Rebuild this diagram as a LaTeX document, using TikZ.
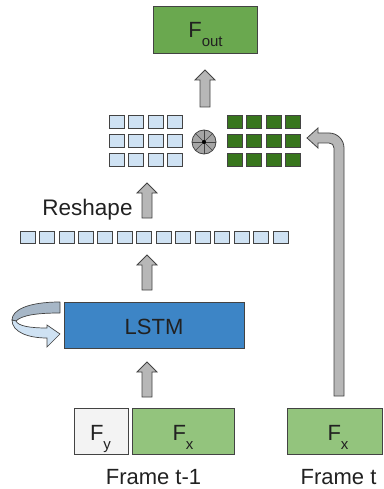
\documentclass[tikz,border=0pt]{standalone}
\usepackage{fontspec}
\setmainfont{Liberation Sans}
\usetikzlibrary{calc}
\definecolor{txt}{HTML}{212121}
\definecolor{edge}{HTML}{434343}
\definecolor{foutg}{HTML}{6AA84F}
\definecolor{fxg}{HTML}{93C47D}
\definecolor{fyg}{HTML}{F3F3F3}
\definecolor{lstmb}{HTML}{3D85C6}
\definecolor{lb}{HTML}{CFE2F3}
\definecolor{dg}{HTML}{38761D}
\definecolor{arrg}{HTML}{B7B7B7}
\definecolor{backb}{HTML}{A7B7C7}
\definecolor{convg}{HTML}{A5A5A5}
\newcommand\Fsub[1]{F\raisebox{-9pt}{\fontsize{15}{15}\selectfont #1}}
\newcommand\blockup[2]{%
  \draw[blockarrow] let \p1=(#1), \p2=(#2) in
    (\x1-5pt,\y1) -- (\x1-5pt,\y2-10pt) -- (\x1-10pt,\y2-10pt) -- (\x2,\y2)
    -- (\x1+10pt,\y2-10pt) -- (\x1+5pt,\y2-10pt) -- (\x1+5pt,\y1) -- cycle;}
\tikzset{
  box/.style={draw=edge, line width=0.9pt, inner sep=0pt, rectangle},
  cellL/.style={draw=edge, fill=lb, line width=0.7pt, minimum width=15pt, minimum height=13pt, inner sep=0pt},
  cellD/.style={draw=edge, fill=dg, line width=0.7pt, minimum width=15pt, minimum height=13pt, inner sep=0pt},
  cellR/.style={draw=edge, fill=lb, line width=0.7pt, minimum width=15pt, minimum height=11.5pt, inner sep=0pt},
  lbl/.style={text=txt, font=\fontsize{22}{22}\selectfont, inner sep=0pt, anchor=base},
  blockarrow/.style={draw=edge, fill=arrg, line width=0.8pt, line join=miter},
}
\begin{document}
\begin{tikzpicture}[x=1pt,y=-1pt]
\useasboundingbox (0,0) rectangle (383,489);
% boxes
\node[box, fill=foutg, minimum width=104pt, minimum height=47pt] (fout) at (205,29.5) {};
\node[box, fill=lstmb, minimum width=180pt, minimum height=46pt] (lstm) at (154,325) {};
\node[box, fill=fyg, minimum width=54pt, minimum height=46pt] (fy) at (101,431) {};
\node[box, fill=fxg, minimum width=102pt, minimum height=46pt] (fx1) at (183,431) {};
\node[box, fill=fxg, minimum width=95pt, minimum height=46pt] (fx2) at (334.5,431) {};
% box texts
\node[lbl] (foutT) at (205.5,38) {\Fsub{out}};
\node[lbl] (lstmT) at (154,334) {LSTM};
\node[lbl] (fyT) at (100.5,440) {\Fsub{y}};
\node[lbl] (fx1T) at (183,440) {\Fsub{x}};
\node[lbl] (fx2T) at (338,440) {\Fsub{x}};
% labels
\node[lbl, font=\fontsize{22.5}{22.5}\selectfont] (reshape) at (87.5,215) {Reshape};
\node[lbl] (frame1) at (153.5,484.5) {Frame t-1};
\node[lbl] (frame2) at (338.5,484.5) {Frame t};
% grids
\foreach \i in {0,...,3}{
  \foreach \j in {0,...,2}{
    \node[cellL] (L\i\j) at ({116.5+19.5*\i},{121.5+19*\j}) {};
    \node[cellD] (D\i\j) at ({234.5+19.5*\i},{121.5+19*\j}) {};
  }
}
\foreach \i in {0,...,13}{
  \node[cellR] (R\i) at ({27.5+19.46*\i},237.5) {};
}
% convolution symbol
\node[circle, draw=edge, fill=convg, line width=0.8pt, minimum size=24pt, inner sep=0pt] (conv) at (204,142) {};
\foreach \a in {0,45,...,315}{
  \draw[edge, line width=0.6pt] (conv.center) -- (conv.\a);
}
\fill[black] (conv.center) circle (2pt);
% vertical block arrows
\coordinate (a0s) at (205,107); \coordinate (a0e) at (205,70);
\coordinate (a1s) at (147,218); \coordinate (a1e) at (147,183);
\coordinate (a2s) at (147,290); \coordinate (a2e) at (147,255);
\coordinate (a3s) at (147,397); \coordinate (a3e) at (147,362);
\blockup{a0s}{a0e}
\blockup{a1s}{a1e}
\blockup{a2s}{a2e}
\blockup{a3s}{a3e}
% long bent arrow
\draw[blockarrow] (334,396) -- (334,148) .. controls (334,145) and (332,143) .. (329,143)
  -- (318,143) -- (318,148) -- (307,138) -- (318,128) -- (318,133) -- (329,133)
  .. controls (337.3,133) and (344,139.7) .. (344,148) -- (344,396) -- cycle;
% recurrent arrow
\draw[draw=edge, fill=backb, line width=0.7pt, line join=round]
  (60,302) .. controls (28,302) and (12,310) .. (12,320) -- (16,321)
  .. controls (22,315) and (38,313) .. (60,313) -- cycle;
\draw[draw=edge, fill=lb, line width=0.7pt, line join=miter]
  (12,320) .. controls (12,332) and (28,338) .. (47,338) -- (47,347) -- (60,334)
  -- (47,325) -- (47,328) .. controls (30,328) and (18,326) .. (16,321) -- cycle;
\end{tikzpicture}
\end{document}
